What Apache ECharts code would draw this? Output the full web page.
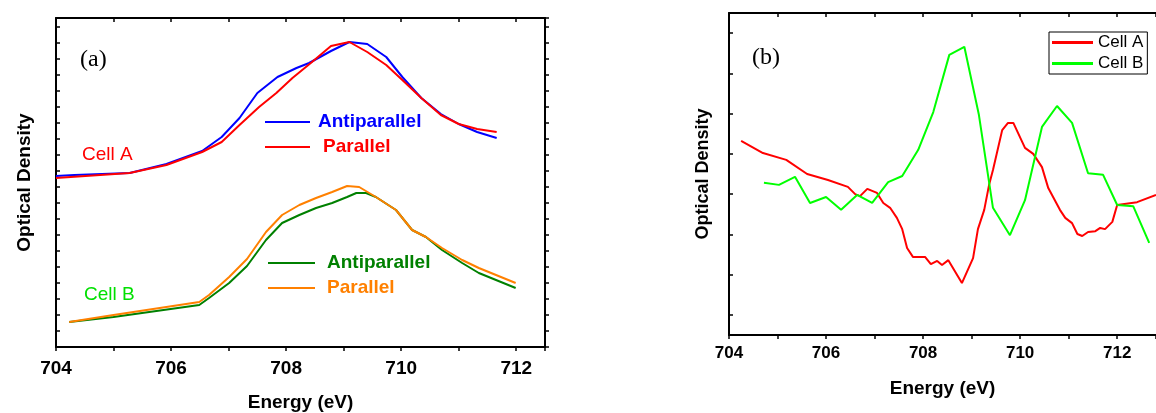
<!DOCTYPE html>
<html lang="en">
<head>
    <meta charset="UTF-8">
    <title>Optical Density</title>
    <script src="https://cdn.jsdelivr.net/npm/echarts@6/dist/echarts.min.js"></script>
    <style>
        body { margin: 0; background: #fff; }
    </style>
</head>
<body>
<div id="main" style="width: 1156px; height: 413px;"></div>
<script>
    // panel (a): Cell A
    var aAntiE  = [704.0, 704.32, 705.28, 705.92, 706.54, 706.88, 707.19, 707.50, 707.85, 708.18, 708.40, 708.78, 709.10, 709.41, 709.74, 710.02, 710.35, 710.69, 711.00, 711.32, 711.66];
    var aAntiOD = [1.71, 1.72, 1.74, 1.83, 1.96, 2.10, 2.29, 2.54, 2.70, 2.79, 2.84, 2.96, 3.05, 3.03, 2.90, 2.70, 2.49, 2.33, 2.23, 2.15, 2.09];
    var aParE   = [704.0, 705.28, 705.92, 706.54, 706.88, 707.19, 707.53, 707.83, 708.11, 708.45, 708.78, 709.10, 709.41, 709.74, 710.02, 710.35, 710.69, 711.00, 711.32, 711.66];
    var aParOD  = [1.69, 1.74, 1.82, 1.95, 2.05, 2.22, 2.40, 2.54, 2.69, 2.85, 3.01, 3.05, 2.95, 2.82, 2.67, 2.49, 2.32, 2.23, 2.18, 2.15];
    // panel (a): Cell B
    var bAntiE  = [704.23, 705.0, 706.49, 706.66, 707.01, 707.32, 707.65, 707.93, 708.23, 708.52, 708.80, 709.06, 709.22, 709.39, 709.56, 709.91, 710.19, 710.43, 710.71, 711.06, 711.35, 711.99];
    var bAntiOD = [0.25, 0.30, 0.42, 0.49, 0.64, 0.81, 1.07, 1.24, 1.32, 1.39, 1.44, 1.50, 1.54, 1.54, 1.50, 1.37, 1.17, 1.10, 0.97, 0.84, 0.74, 0.59];
    var bParE   = [704.23, 705.0, 706.49, 706.66, 707.01, 707.32, 707.65, 707.93, 708.23, 708.52, 708.80, 709.06, 709.27, 709.56, 709.91, 710.19, 710.43, 710.71, 711.06, 711.35, 711.99];
    var bParOD  = [0.25, 0.32, 0.45, 0.52, 0.70, 0.88, 1.15, 1.32, 1.42, 1.49, 1.55, 1.61, 1.60, 1.50, 1.37, 1.17, 1.10, 0.99, 0.87, 0.79, 0.64];

    // panel (b): difference spectra
    var diffAE = [704.25, 704.70, 705.18, 705.61, 706.04, 706.45, 706.60, 706.70, 706.85, 707.05, 707.18, 707.32, 707.46, 707.57, 707.67, 707.79, 708.04, 708.16, 708.29, 708.39, 708.52, 708.80, 709.03, 709.13, 709.26, 709.36, 709.44, 709.63, 709.75, 709.86, 710.10, 710.27, 710.45, 710.58, 710.82, 710.93, 711.07, 711.18, 711.28, 711.40, 711.55, 711.65, 711.75, 711.90, 712.00, 712.41, 712.80];
    var diffAV = [4.82, 4.52, 4.35, 4.00, 3.85, 3.68, 3.50, 3.45, 3.63, 3.53, 3.28, 3.16, 2.91, 2.63, 2.16, 1.94, 1.94, 1.76, 1.84, 1.74, 1.86, 1.29, 1.91, 2.63, 3.11, 3.73, 4.10, 5.09, 5.27, 5.27, 4.65, 4.50, 4.17, 3.65, 3.11, 2.91, 2.78, 2.51, 2.46, 2.56, 2.58, 2.66, 2.63, 2.81, 3.23, 3.30, 3.48];
    var diffBE = [704.72, 705.03, 705.36, 705.67, 706.00, 706.31, 706.64, 706.95, 707.28, 707.57, 707.90, 708.21, 708.54, 708.85, 709.15, 709.44, 709.79, 710.10, 710.45, 710.76, 711.07, 711.40, 711.71, 712.00, 712.33, 712.66];
    var diffBV = [3.78, 3.73, 3.93, 3.28, 3.43, 3.11, 3.48, 3.28, 3.80, 3.95, 4.60, 5.54, 6.96, 7.16, 5.47, 3.16, 2.48, 3.35, 5.17, 5.69, 5.27, 4.02, 3.98, 3.23, 3.20, 2.29];

    var bTicks = [0.5, 1.5, 2.5, 3.5, 4.5, 5.5, 6.5, 7.5];

    function zip(xs, ys) {
        return xs.map(function (x, i) { return [x, ys[i]]; });
    }

    var FONT = 'Arial, "Liberation Sans", sans-serif';
    var SERIF = '"Times New Roman", "Liberation Serif", serif';
    var axisLine = { show: true, onZero: false, lineStyle: { color: '#000', width: 2 } };
    function evenLabel(v) { return Math.abs(v % 2) < 1e-6 ? String(v) : ''; }

    var mychart = echarts.init(document.getElementById('main'));

    mychart.setOption({
        animation: false,
        grid: [
            { left: 56, top: 18, width: 489, height: 329, outerBoundsMode: 'none' },
            { left: 729, top: 13, right: 0, height: 322, outerBoundsMode: 'none' }
        ],
        xAxis: [
            {
                gridIndex: 0, type: 'value', min: 704, max: 712.5, interval: 1,
                axisLine: axisLine,
                axisTick: { inside: false, length: 4, lineStyle: { color: '#000', width: 1.5 } },
                axisLabel: { formatter: evenLabel, fontFamily: FONT, fontWeight: 'bold', fontSize: 19, color: '#000', margin: 12 },
                splitLine: { show: false },
                name: 'Energy (eV)', nameLocation: 'middle', nameGap: 46,
                nameTextStyle: { fontFamily: FONT, fontWeight: 'bold', fontSize: 19, color: '#000' }
            },
            {
                gridIndex: 0, type: 'value', position: 'top', min: 704, max: 712.5, interval: 1,
                axisLine: axisLine,
                axisTick: { inside: true, length: 4, lineStyle: { color: '#000', width: 1.5 } },
                axisLabel: { show: false }, splitLine: { show: false }
            },
            {
                gridIndex: 1, type: 'value', min: 704, max: 712.8, interval: 1,
                axisLine: axisLine,
                axisTick: { inside: false, length: 4, lineStyle: { color: '#000', width: 1.5 } },
                axisLabel: { formatter: evenLabel, fontFamily: FONT, fontWeight: 'bold', fontSize: 17, color: '#000', margin: 10 },
                splitLine: { show: false },
                name: 'Energy (eV)', nameLocation: 'middle', nameGap: 44,
                nameTextStyle: { fontFamily: FONT, fontWeight: 'bold', fontSize: 19, color: '#000' }
            },
            {
                gridIndex: 1, type: 'value', position: 'top', min: 704, max: 712.8, interval: 1,
                axisLine: axisLine,
                axisTick: { inside: true, length: 4, lineStyle: { color: '#000', width: 1.5 } },
                axisLabel: { show: false }, splitLine: { show: false }
            }
        ],
        yAxis: [
            {
                gridIndex: 0, type: 'value', min: 0, max: 3.29, interval: 0.16,
                axisLine: axisLine,
                axisTick: { inside: true, length: 4, lineStyle: { color: '#000', width: 1.5 } },
                axisLabel: { show: false }, splitLine: { show: false },
                name: 'Optical Density', nameLocation: 'middle', nameGap: 22, nameRotate: 90,
                nameTextStyle: { fontFamily: FONT, fontWeight: 'bold', fontSize: 19, color: '#000' }
            },
            {
                gridIndex: 0, type: 'value', position: 'right', min: 0, max: 3.29, interval: 0.16,
                axisLine: axisLine,
                axisTick: { inside: false, length: 4, lineStyle: { color: '#000', width: 1.5 } },
                axisLabel: { show: false }, splitLine: { show: false }
            },
            {
                gridIndex: 1, type: 'value', min: 0, max: 8,
                axisLine: axisLine,
                axisTick: { inside: true, length: 4, customValues: bTicks, lineStyle: { color: '#000', width: 1.5 } },
                axisLabel: { show: false }, splitLine: { show: false },
                name: 'Optical Density', nameLocation: 'middle', nameGap: 17, nameRotate: 90,
                nameTextStyle: { fontFamily: FONT, fontWeight: 'bold', fontSize: 18, color: '#000' }
            }
        ],
        legend: {
            data: ['Cell A', 'Cell B'],
            orient: 'vertical',
            left: 1049, top: 32,
            padding: [2, 4, 2, 3],
            itemGap: 4,
            icon: 'rect',
            itemWidth: 41, itemHeight: 3,
            borderColor: '#000', borderWidth: 1, borderRadius: 0,
            textStyle: { fontFamily: FONT, fontSize: 17, color: '#000', lineHeight: 17 }
        },
        series: [
            { name: 'A Antiparallel', type: 'line', xAxisIndex: 0, yAxisIndex: 0, symbol: 'none', data: zip(aAntiE, aAntiOD), lineStyle: { color: '#0000ff', width: 2 }, itemStyle: { color: '#0000ff' } },
            { name: 'A Parallel', type: 'line', xAxisIndex: 0, yAxisIndex: 0, symbol: 'none', data: zip(aParE, aParOD), lineStyle: { color: '#ff0000', width: 2 }, itemStyle: { color: '#ff0000' } },
            { name: 'B Antiparallel', type: 'line', xAxisIndex: 0, yAxisIndex: 0, symbol: 'none', data: zip(bAntiE, bAntiOD), lineStyle: { color: '#008000', width: 2 }, itemStyle: { color: '#008000' } },
            { name: 'B Parallel', type: 'line', xAxisIndex: 0, yAxisIndex: 0, symbol: 'none', data: zip(bParE, bParOD), lineStyle: { color: '#ff8000', width: 2 }, itemStyle: { color: '#ff8000' } },
            { name: 'Cell A', type: 'line', xAxisIndex: 2, yAxisIndex: 2, symbol: 'none', data: zip(diffAE, diffAV), lineStyle: { color: '#ff0000', width: 2 }, itemStyle: { color: '#ff0000' } },
            { name: 'Cell B', type: 'line', xAxisIndex: 2, yAxisIndex: 2, symbol: 'none', data: zip(diffBE, diffBV), lineStyle: { color: '#00ff00', width: 2 }, itemStyle: { color: '#00ff00' } }
        ],
        graphic: [
            { type: 'text', left: 80, top: 48, style: { text: '(a)', font: '24px ' + SERIF, fill: '#000' } },
            { type: 'text', left: 752, top: 46, style: { text: '(b)', font: '24px ' + SERIF, fill: '#000' } },
            { type: 'text', left: 82, top: 145, style: { text: 'Cell A', font: '19px ' + FONT, fill: '#ff0000' } },
            { type: 'text', left: 84, top: 285, style: { text: 'Cell B', font: '19px ' + FONT, fill: '#00e000' } },
            // legend keys of panel (a)
            { type: 'line', shape: { x1: 265, y1: 122, x2: 310, y2: 122 }, style: { stroke: '#0000ff', lineWidth: 2 } },
            { type: 'text', left: 318, top: 112, style: { text: 'Antiparallel', font: 'bold 19px ' + FONT, fill: '#0000ff' } },
            { type: 'line', shape: { x1: 265, y1: 147, x2: 310, y2: 147 }, style: { stroke: '#ff0000', lineWidth: 2 } },
            { type: 'text', left: 323, top: 137, style: { text: 'Parallel', font: 'bold 19px ' + FONT, fill: '#ff0000' } },
            { type: 'line', shape: { x1: 268, y1: 263, x2: 315, y2: 263 }, style: { stroke: '#008000', lineWidth: 2 } },
            { type: 'text', left: 327, top: 253, style: { text: 'Antiparallel', font: 'bold 19px ' + FONT, fill: '#008000' } },
            { type: 'line', shape: { x1: 268, y1: 288, x2: 315, y2: 288 }, style: { stroke: '#ff8000', lineWidth: 2 } },
            { type: 'text', left: 327, top: 278, style: { text: 'Parallel', font: 'bold 19px ' + FONT, fill: '#ff8000' } }
        ]
    });
</script>
</body>
</html>
